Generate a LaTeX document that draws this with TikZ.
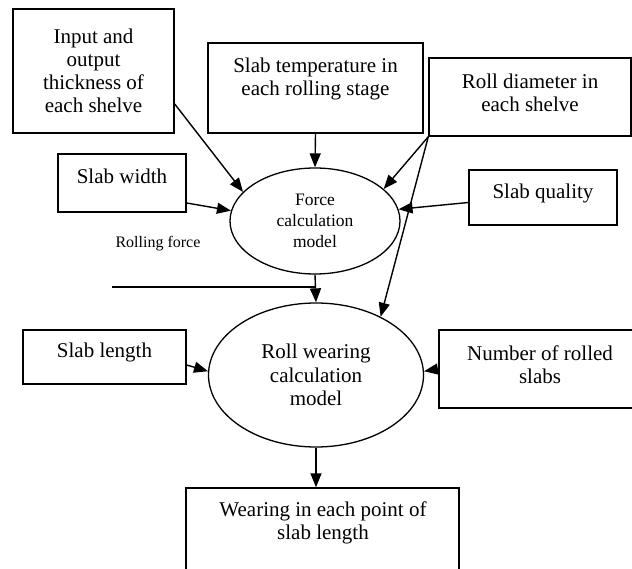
\documentclass[tikz,border=0pt]{standalone}
\usepackage{fontspec}
\setmainfont{Liberation Serif}
\usepackage{tikz}
\usetikzlibrary{shapes.geometric, arrows.meta, positioning, calc}

\begin{document}
\begin{tikzpicture}[
    x=1pt, y=-1pt,
    box/.style={draw, line width=1.4pt, inner sep=0pt},
    model/.style={draw, ellipse, line width=1.3pt, inner sep=0pt, align=center},
    big/.style={font=\fontsize{21}{23}\selectfont, align=center},
    small/.style={font=\fontsize{16}{21}\selectfont, align=center},
    arr/.style={-{Triangle[length=14pt,width=11pt]}, line width=1.4pt}
]
    \useasboundingbox (0,0) rectangle (632,569);
    \clip (0,0) rectangle (632,569);

    % Inputs of the force model
    \node[box, big, minimum width=161pt, minimum height=124pt] (thick) at (93.5,71)
        {Input and\\output\\thickness of\\each shelve};
    \node[box, minimum width=215pt, minimum height=90pt] (temp) at (315.5,88) {};
    \node[big] (temptext) at (315.5,79) {Slab temperature in\\each rolling stage};
    \node[box, minimum width=202pt, minimum height=78pt] (diam) at (530,97) {};
    \node[big] (diamtext) at (530,93) {Roll diameter in\\each shelve};
    \node[box, minimum width=128pt, minimum height=58pt] (width) at (122,183) {};
    \node[big] (widthtext) at (122,176) {Slab width};
    \node[box, minimum width=148pt, minimum height=55pt] (quality) at (543,197.5) {};
    \node[big] (qualitytext) at (543,193) {Slab quality};

    % Force model
    \node[model, font=\fontsize{17.5}{21}\selectfont, minimum width=170pt, minimum height=106pt]
        (force) at (315,221) {Force\\calculation\\model};
    \node[small] (rf) at (158,244) {Rolling force};
    \coordinate (rfstart) at (112,287);

    % Wearing model and its inputs
    \node[model, font=\fontsize{21}{23.5}\selectfont, minimum width=215pt, minimum height=144pt]
        (wear) at (316,375) {Roll wearing\\calculation\\model};
    \node[box, minimum width=163pt, minimum height=54pt] (length) at (104.5,357) {};
    \node[big] (lengthtext) at (104.5,352) {Slab length};
    \node[box, minimum width=194pt, minimum height=78pt] (number) at (536,369) {};
    \node[big] (numbertext) at (540,365) {Number of rolled\\slabs};

    % Output
    \node[box, minimum width=273pt, minimum height=104pt] (out) at (322.5,540) {};
    \node[big] (outtext) at (323,522.5) {Wearing in each point of\\slab length};

    % Arrows
    \draw[arr] ([yshift=-33pt]thick.east) -- (force.158);
    \draw[arr] ([yshift=-20pt]width.east) -- (force.173);
    \draw[arr] (temp.south) -- (force.north);
    \draw[arr] (diam.south west) -- (force.25);
    \draw[arr] ([yshift=-5pt]quality.west) -- (force.8);
    \draw[line width=1.4pt] (rfstart) -- (rfstart -| force.south);
    \draw[arr] (force.south) -- (wear.north);
    \draw[arr] (diam.south west) -- (wear.42);
    \draw[arr] ([yshift=-8pt]length.east) -- (wear.178);
    \draw[arr] (number.west) -- (wear.2);
    \draw[arr] (wear.south) -- (wear.south |- out.north);
\end{tikzpicture}
\end{document}
